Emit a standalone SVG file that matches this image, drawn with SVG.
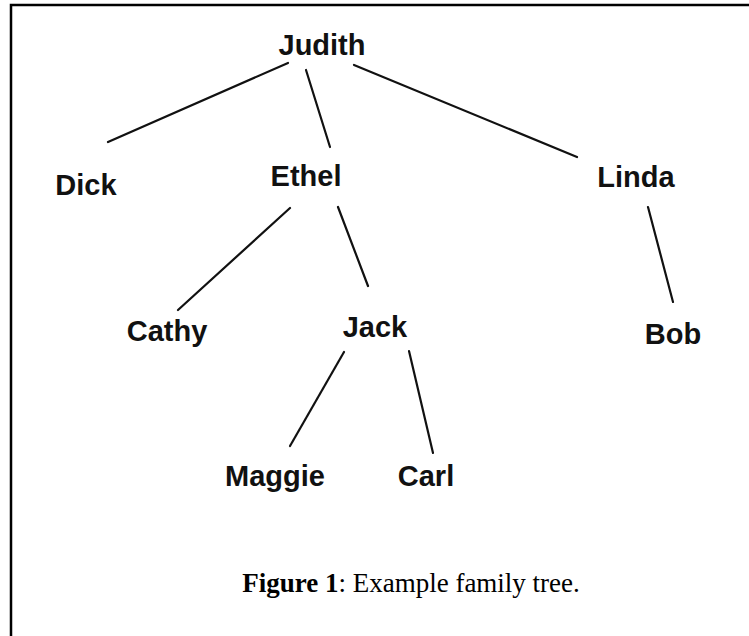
<svg xmlns="http://www.w3.org/2000/svg" width="749" height="636" viewBox="0 0 749 636">
<style>
.n{font-family:"Liberation Sans",Arial,sans-serif;font-weight:bold;font-size:29px;fill:#111;text-anchor:middle}
.c line{stroke:#111;stroke-width:2.2;stroke-linecap:round}
.cap{font-family:"Liberation Serif","Times New Roman",serif;font-size:27px;fill:#000;text-anchor:middle}
</style>
<rect width="749" height="636" fill="#fff"/>
<path d="M11 636 V5 H749" fill="none" stroke="#000" stroke-width="2.5"/>
<g class="c" id="connectors">
<line x1="288" y1="63" x2="108" y2="142"/>
<line x1="306" y1="70" x2="330" y2="147"/>
<line x1="354" y1="65" x2="577" y2="157"/>
<line x1="290" y1="208" x2="178" y2="310"/>
<line x1="338" y1="207" x2="368" y2="286"/>
<line x1="648" y1="207" x2="673" y2="302"/>
<line x1="344" y1="352" x2="290" y2="446"/>
<line x1="409" y1="351" x2="433" y2="453"/>
</g>
<g id="judith"><text class="n" x="322" y="55">Judith</text></g>
<g id="dick"><text class="n" x="86" y="195">Dick</text></g>
<g id="ethel"><text class="n" x="306" y="186">Ethel</text></g>
<g id="linda"><text class="n" x="636" y="187">Linda</text></g>
<g id="cathy"><text class="n" x="167" y="341">Cathy</text></g>
<g id="jack"><text class="n" x="375" y="337">Jack</text></g>
<g id="bob"><text class="n" x="673" y="344">Bob</text></g>
<g id="maggie"><text class="n" x="275" y="486">Maggie</text></g>
<g id="carl"><text class="n" x="426" y="486">Carl</text></g>
<g id="caption"><text class="cap" x="411" y="592"><tspan font-weight="bold">Figure 1</tspan>: Example family tree.</text></g>
</svg>
